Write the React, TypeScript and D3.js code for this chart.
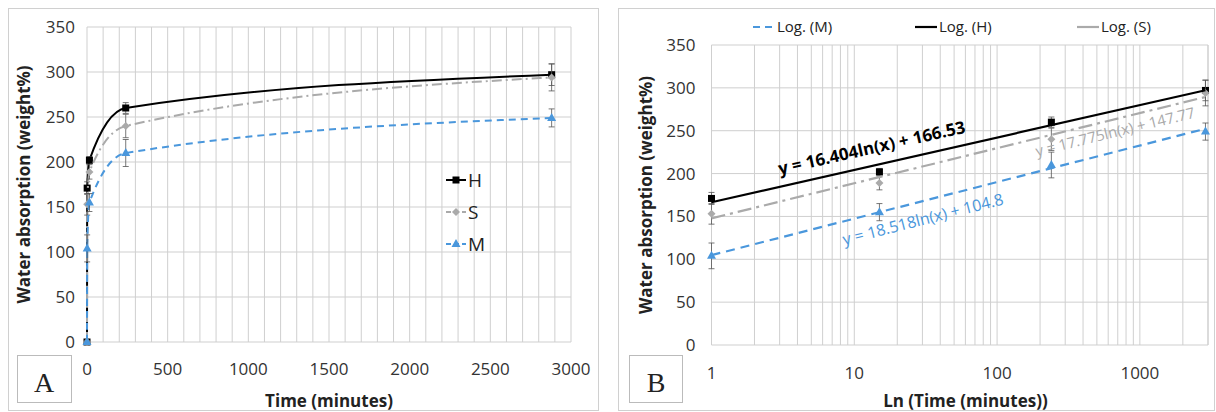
import * as d3 from "d3";

const times = [0, 1, 15, 240, 2880];
const hVals = [0, 171, 202, 260, 297];
const sVals = [0, 153, 189, 240, 294];
const mVals = [0, 104, 155, 210, 249];
const hErr = [0, 7, 4, 6, 12];
const sErr = [0, 12, 8, 13, 15];
const mErr = [0, 15, 10, 15, 10];
const yTicks = [0, 50, 100, 150, 200, 250, 300, 350];
const xTicksA = [0, 500, 1000, 1500, 2000, 2500, 3000];
const xTicksB = [1, 10, 100, 1000];
const fits = [
  { name: "Log. (M)", a: 18.518, b: 104.8, color: "#4a97dc", dash: "9,6" },
  { name: "Log. (H)", a: 16.404, b: 166.53, color: "#000", dash: "" },
  { name: "Log. (S)", a: 17.775, b: 147.77, color: "#aaa", dash: "14,5,3,5" },
];

const FONT = "'Open Sans', 'Liberation Sans', sans-serif";
const series = [
  { name: "H", vals: hVals, err: hErr, color: "#000", dash: "", shape: "square" },
  { name: "S", vals: sVals, err: sErr, color: "#aaa", dash: "10,4,2,4", shape: "diamond" },
  { name: "M", vals: mVals, err: mErr, color: "#4a97dc", dash: "7,5", shape: "triangle" },
];

function Marker({ x, y, shape, color }: any) {
  if (shape === "square") return <rect x={x - 3.5} y={y - 3.5} width={7} height={7} fill={color} />;
  if (shape === "diamond") return <path d={`M${x},${y - 4}L${x + 4},${y}L${x},${y + 4}L${x - 4},${y}Z`} fill={color} />;
  return <path d={`M${x},${y - 5}L${x + 4.5},${y + 3}L${x - 4.5},${y + 3}Z`} fill={color} />;
}

function PanelA() {
  const x = d3.scaleLinear().domain([0, 3000]).range([87, 571]);
  const y = d3.scaleLinear().domain([0, 350]).range([342, 27]);
  const line = d3.line<number>().x((_, i) => x(times[i])).y((d) => y(d)).curve(d3.curveMonotoneX);
  return (
    <g>
      <rect x={8.5} y={8.5} width={590} height={402} fill="#fff" stroke="#d0d0d0" />
      {d3.range(0, 3001, 100).map((v) => (
        <line key={v} x1={x(v)} x2={x(v)} y1={y(0)} y2={y(350)} stroke="#cfcfcf" />
      ))}
      {yTicks.map((v) => (
        <g key={v}>
          <line x1={x(0)} x2={x(3000)} y1={y(v)} y2={y(v)} stroke="#cfcfcf" />
          <text x={x(0) - 12} y={y(v) + 6} textAnchor="end" fontSize={17} fill="#333">{v}</text>
        </g>
      ))}
      {xTicksA.map((v) => (
        <text key={v} x={x(v)} y={375} textAnchor="middle" fontSize={17} fill="#333">{v}</text>
      ))}
      {series.map((s) => (
        <g key={s.name}>
          <path d={line(s.vals) || ""} fill="none" stroke={s.color} strokeWidth={2} strokeDasharray={s.dash} />
          {s.vals.map((v, i) => (
            <g key={i}>
              <line x1={x(times[i])} x2={x(times[i])} y1={y(v - s.err[i])} y2={y(v + s.err[i])} stroke="#555" strokeWidth={0.8} />
              <line x1={x(times[i]) - 3} x2={x(times[i]) + 3} y1={y(v - s.err[i])} y2={y(v - s.err[i])} stroke="#555" strokeWidth={0.8} />
              <line x1={x(times[i]) - 3} x2={x(times[i]) + 3} y1={y(v + s.err[i])} y2={y(v + s.err[i])} stroke="#555" strokeWidth={0.8} />
              <Marker x={x(times[i])} y={y(v)} shape={s.shape} color={s.color} />
            </g>
          ))}
        </g>
      ))}
      {series.map((s, i) => (
        <g key={s.name} transform={`translate(446,${180 + i * 32})`}>
          <line x1={0} x2={20} y1={0} y2={0} stroke={s.color} strokeWidth={2} strokeDasharray={s.shape === "square" ? "" : "5,3"} />
          <Marker x={10} y={0} shape={s.shape} color={s.color} />
          <text x={22} y={7} fontSize={19} fill="#222">{s.name}</text>
        </g>
      ))}
      <text transform={`translate(30,${y(175)}) rotate(-90)`} textAnchor="middle" fontSize={17} fontWeight="bold" fill="#222">Water absorption (weight%)</text>
      <text x={x(1500)} y={407} textAnchor="middle" fontSize={17} fontWeight="bold" fill="#222">Time (minutes)</text>
      <rect x={17.5} y={355.5} width={54} height={47} fill="#fff" stroke="#bbb" />
      <text x={44} y={392} textAnchor="middle" fontSize={28} fontFamily="'Liberation Serif', serif" fill="#222">A</text>
    </g>
  );
}

function PanelB() {
  const x = d3.scaleLog().domain([1, 3000]).range([711.5, 1208]);
  const y = d3.scaleLinear().domain([0, 350]).range([345, 45]);
  const minor: number[] = [];
  [1, 10, 100, 1000].forEach((d) => d3.range(1, 10).forEach((k) => d * k <= 3000 && minor.push(d * k)));
  const pts = times.slice(1);
  const fitLine = (f: any) => d3.line<number>().x((t) => x(t)).y((t) => y(f.a * Math.log(t) + f.b))([1, 2880]) || "";
  const labels = [
    { f: fits[1], t: 3, dy: -12, color: "#000", size: 17, text: "y = 16.404ln(x) + 166.53" },
    { f: fits[0], t: 8.5, dy: 24, color: "#4a97dc", size: 16, text: "y = 18.518ln(x) + 104.8" },
    { f: fits[2], t: 190, dy: 18, color: "#aaa", size: 15, text: "y = 17.775ln(x) + 147.77" },
  ];
  const slope = (f: any) => {
    const a = [x(10), y(f.a * Math.log(10) + f.b)];
    const b = [x(1000), y(f.a * Math.log(1000) + f.b)];
    return (Math.atan2(b[1] - a[1], b[0] - a[0]) * 180) / Math.PI;
  };
  return (
    <g>
      <rect x={618.5} y={8.5} width={596} height={402} fill="#fff" stroke="#d0d0d0" />
      {minor.map((v) => (
        <line key={v} x1={x(v)} x2={x(v)} y1={y(0)} y2={y(350)} stroke="#cfcfcf" />
      ))}
      <line x1={x(3000)} x2={x(3000)} y1={y(0)} y2={y(350)} stroke="#cfcfcf" />
      {yTicks.map((v) => (
        <g key={v}>
          <line x1={x(1)} x2={x(3000)} y1={y(v)} y2={y(v)} stroke="#cfcfcf" />
          <text x={x(1) - 16} y={y(v) + 6} textAnchor="end" fontSize={17} fill="#333">{v}</text>
        </g>
      ))}
      {xTicksB.map((v) => (
        <text key={v} x={x(v)} y={379} textAnchor="middle" fontSize={17} fill="#333">{v}</text>
      ))}
      {series.map((s) => (
        <g key={s.name}>
          {pts.map((t, j) => {
            const i = j + 1;
            const v = s.vals[i];
            return (
              <g key={t}>
                <line x1={x(t)} x2={x(t)} y1={y(v - s.err[i])} y2={y(v + s.err[i])} stroke="#555" strokeWidth={0.8} />
                <line x1={x(t) - 3} x2={x(t) + 3} y1={y(v - s.err[i])} y2={y(v - s.err[i])} stroke="#555" strokeWidth={0.8} />
                <line x1={x(t) - 3} x2={x(t) + 3} y1={y(v + s.err[i])} y2={y(v + s.err[i])} stroke="#555" strokeWidth={0.8} />
                <Marker x={x(t)} y={y(v)} shape={s.shape} color={s.color} />
              </g>
            );
          })}
        </g>
      ))}
      {fits.map((f) => (
        <path key={f.name} d={fitLine(f)} fill="none" stroke={f.color} strokeWidth={2.2} strokeDasharray={f.dash} />
      ))}
      {labels.map((l) => (
        <text key={l.text} transform={`translate(${x(l.t)},${y(l.f.a * Math.log(l.t) + l.f.b) + l.dy}) rotate(${slope(l.f)})`} textAnchor="start" fontSize={l.size} fontWeight={l.color === "#000" ? "bold" : "normal"} fill={l.color}>{l.text}</text>
      ))}
      {fits.map((f, i) => (
        <g key={f.name} transform={`translate(${753 + i * 162},27)`}>
          <line x1={0} x2={22} y1={0} y2={0} stroke={f.color} strokeWidth={2.2} strokeDasharray={i === 0 ? "7,5" : ""} />
          <text x={24} y={5} fontSize={15} fill="#222">{f.name}</text>
        </g>
      ))}
      <text transform={`translate(652,${y(175)}) rotate(-90)`} textAnchor="middle" fontSize={17} fontWeight="bold" fill="#222">Water absorption (weight%)</text>
      <text x={x(60)} y={407} textAnchor="middle" fontSize={17} fontWeight="bold" fill="#222">Ln (Time (minutes))</text>
      <rect x={629.5} y={355.5} width={53} height={47} fill="#fff" stroke="#bbb" />
      <text x={656} y={392} textAnchor="middle" fontSize={28} fontFamily="'Liberation Serif', serif" fill="#222">B</text>
    </g>
  );
}

export default function App() {
  return (
    <svg width={1216} height={412} style={{ position: "absolute", left: 0, top: 0 }} fontFamily={FONT}>
      <rect width={1216} height={412} fill="#fff" />
      <PanelA />
      <PanelB />
    </svg>
  );
}
